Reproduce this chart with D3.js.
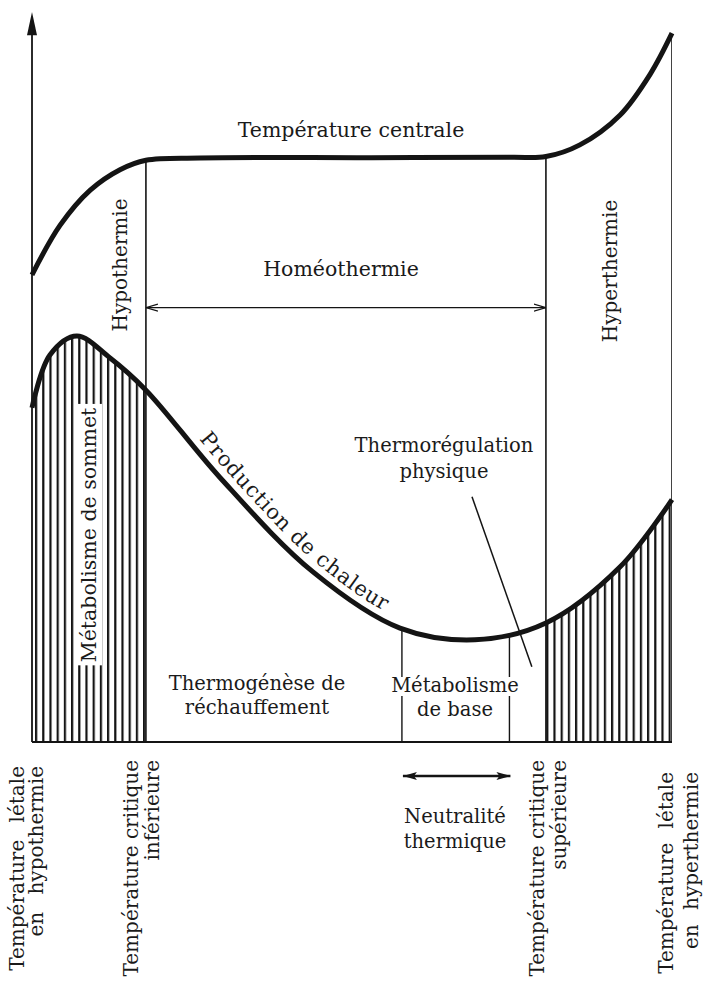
<!DOCTYPE html>
<html>
<head>
<meta charset="utf-8">
<script src="https://cdn.jsdelivr.net/npm/d3@7"></script>
<style>
  body { margin: 0; background: #fff; }
  text { font-family: "DejaVu Serif", serif; fill: #1a1a1a; }
</style>
</head>
<body>
<svg id="chart" width="707" height="982"></svg>
<script>
// ambient temperature runs 0 (lethal, hypothermia) .. 100 (lethal, hyperthermia), no units in the figure
const limitNames = ["letaleHypo", "critiqueInf", "neutreBas", "neutreHaut", "critiqueSup", "letaleHyper"];
const limitValues = [0, 17.8, 57.8, 74.6, 80.3, 100];

// température centrale [temp, level]
const centralTemp = [[0,64],[4.4,70.8],[9.1,75.6],[13.75,78.4],[17.8,79.7],[26.25,80],[53,80.05],
  [75,80.1],[80.3,80.2],[85.6,81.8],[91.9,85.9],[96.6,91.5],[100,97.1]];

// production de chaleur [temp, level]
const heatProduction = [[0,45.8],[2.8,53],[7,55.6],[12.2,52.6],[17.8,48.2],[29.4,36.2],[43.9,23.3],
  [57.5,15.6],[69.2,14],[80.3,16.3],[91.9,24],[100,33.2]];

// pointer from "Thermorégulation physique" down to the curve
const leaderLine = [[68.75,33.6],[78.1,10.3]];

const bottomLabels = [
  ["Température létale", "en hypothermie"],
  ["Température  critique", "inférieure"],
  ["Température  critique", "supérieure"],
  ["Température létale", "en hyperthermie"]
];

const svg = d3.select("#chart");
const x = d3.scaleLinear().domain([0, 100]).range([32, 672]);
const y = d3.scaleLinear().domain([0, 100]).range([742, 12]);
const ink = "#141414";

const defs = svg.append("defs");
const hatch = defs.append("pattern")
    .attr("id", "hatch").attr("patternUnits", "userSpaceOnUse")
    .attr("width", 7.2).attr("height", 10).attr("x", x(0) + 3);
hatch.append("rect").attr("width", 2.2).attr("height", 10).attr("fill", ink);

const curve = d3.curveCatmullRom.alpha(0.5);
const under = d3.area().x(d => x(d[0])).y0(y(0)).y1(d => y(d[1])).curve(curve);
const line = d3.line().x(d => x(d[0])).y(d => y(d[1])).curve(curve);

defs.append("clipPath").attr("id", "underHeat").append("path").attr("d", under(heatProduction));
defs.append("clipPath").attr("id", "underCentral").append("path").attr("d", under(centralTemp));

// hatched zones: métabolisme de sommet and the hot side
const hatchZones = [[limitValues[0], limitValues[1]], [limitValues[4], limitValues[5]]];
svg.append("g").attr("clip-path", "url(#underHeat)")
  .selectAll("rect").data(hatchZones).join("rect")
    .attr("x", d => x(d[0])).attr("width", d => x(d[1]) - x(d[0]))
    .attr("y", y(100)).attr("height", y(0) - y(100))
    .attr("fill", "url(#hatch)");

// vertical limit lines
svg.append("g").attr("clip-path", "url(#underCentral)")
  .selectAll("line").data([limitValues[1], limitValues[4], limitValues[5]]).join("line")
    .attr("x1", d => x(d)).attr("x2", d => x(d))
    .attr("y1", y(100)).attr("y2", y(0))
    .attr("stroke", ink).attr("stroke-width", 1.6);

svg.append("g").attr("clip-path", "url(#underHeat)")
  .selectAll("line").data([limitValues[2], limitValues[3]]).join("line")
    .attr("x1", d => x(d)).attr("x2", d => x(d))
    .attr("y1", y(100)).attr("y2", y(0))
    .attr("stroke", ink).attr("stroke-width", 1.4);

// axis + baseline
svg.append("line").attr("x1", x(0)).attr("x2", x(0)).attr("y1", y(0)).attr("y2", y(97))
  .attr("stroke", ink).attr("stroke-width", 1.8);
svg.append("path")
  .attr("d", `M${x(0)},${y(100)} L${x(0) - 5},${y(96.8)} L${x(0) + 5},${y(96.8)} Z`)
  .attr("fill", ink);
svg.append("line").attr("x1", x(0)).attr("x2", x(100)).attr("y1", y(0)).attr("y2", y(0))
  .attr("stroke", ink).attr("stroke-width", 1.8);

// curves
svg.append("path").attr("d", line(centralTemp))
  .attr("fill", "none").attr("stroke", ink).attr("stroke-width", 5);
svg.append("path").attr("id", "heatCurve").attr("d", line(heatProduction))
  .attr("fill", "none").attr("stroke", ink).attr("stroke-width", 5);

svg.append("line")
  .attr("x1", x(leaderLine[0][0])).attr("y1", y(leaderLine[0][1]))
  .attr("x2", x(leaderLine[1][0])).attr("y2", y(leaderLine[1][1]))
  .attr("stroke", ink).attr("stroke-width", 1.5);

// arrows
defs.append("marker").attr("id", "openHead").attr("viewBox", "0 -5 12 10")
  .attr("refX", 12).attr("refY", 0).attr("markerWidth", 12).attr("markerHeight", 10)
  .attr("markerUnits", "userSpaceOnUse").attr("orient", "auto-start-reverse")
  .append("path").attr("d", "M0,-3.5 L12,0 L0,3.5").attr("fill", "none")
  .attr("stroke", ink).attr("stroke-width", 1.3);
defs.append("marker").attr("id", "fullHead").attr("viewBox", "0 -5 14 10")
  .attr("refX", 14).attr("refY", 0).attr("markerWidth", 14).attr("markerHeight", 10)
  .attr("markerUnits", "userSpaceOnUse").attr("orient", "auto-start-reverse")
  .append("path").attr("d", "M0,-4 L14,0 L0,4 L3,0 Z").attr("fill", ink);

svg.append("line")
  .attr("x1", x(limitValues[1])).attr("x2", x(limitValues[4]))
  .attr("y1", y(59.5)).attr("y2", y(59.5))
  .attr("stroke", ink).attr("stroke-width", 1.3)
  .attr("marker-start", "url(#openHead)").attr("marker-end", "url(#openHead)");
svg.append("line")
  .attr("x1", x(limitValues[2]) + 1).attr("x2", x(limitValues[3]) + 1)
  .attr("y1", 776).attr("y2", 776)
  .attr("stroke", ink).attr("stroke-width", 2.4)
  .attr("marker-start", "url(#fullHead)").attr("marker-end", "url(#fullHead)");

// horizontal texts
function textBlock(lines, cx, by, size, lh) {
  const t = svg.append("text").attr("text-anchor", "middle").attr("font-size", size);
  lines.forEach((s, i) => t.append("tspan").attr("x", cx).attr("y", by + i * lh).text(s));
  return t;
}
textBlock(["Température  centrale"], 351, 137, 20.5, 0);
textBlock(["Homéothermie"], 341, 276, 20.5, 0);
textBlock(["Thermorégulation", "physique"], 444, 452, 19.5, 26);
textBlock(["Thermogénèse  de", "réchauffement"], 257, 690, 19.5, 24);
textBlock(["Neutralité", "thermique"], 455, 823, 19.5, 25);

// métabolisme de base: the label interrupts the two neutral lines
const mb = textBlock(["Métabolisme"], 455, 692, 19.5, 0);
const mbBox = mb.node().getBBox();
svg.insert("rect", "text").attr("x", mbBox.x - 2).attr("y", mbBox.y + 3)
  .attr("width", mbBox.width + 4).attr("height", mbBox.height - 4).attr("fill", "#fff");
textBlock(["de  base"], 455, 716, 19.5, 0);

// rotated texts
function rotated(lines, bx, by, size, lh, anchor, wordGap) {
  const g = svg.append("g").attr("transform", `translate(${bx},${by}) rotate(-90)`);
  const t = g.append("text").attr("text-anchor", anchor).attr("font-size", size)
    .attr("word-spacing", wordGap || 0);
  lines.forEach((s, i) => t.append("tspan").attr("x", 0).attr("y", i * lh).text(s));
  return g;
}
rotated(["Hypothermie"], 127, 265, 20, 0, "middle");
rotated(["Hyperthermie"], 617, 271, 20, 0, "middle");

const ms = rotated(["Métabolisme  de  sommet"], 96, 535, 20.5, 0, "middle");
const msBox = ms.select("text").node().getBBox();
ms.insert("rect", "text").attr("x", msBox.x - 3).attr("y", msBox.y - 1)
  .attr("width", msBox.width + 6).attr("height", msBox.height + 2).attr("fill", "#fff");

// [baseline x, top end y, line gap, word spacing]
const bottomPos = [[24, 766, 19, 11], [138, 760, 21, 0], [544, 760, 22, 0], [673, 772, 25, 8]];
bottomLabels.forEach((lines, i) => {
  const p = bottomPos[i];
  rotated(lines, p[0], p[1], 20, p[2], "end", p[3]);
});

// "Production de chaleur" follows the curve
const heatNode = d3.select("#heatCurve").node();
const total = heatNode.getTotalLength();
let lo = 0, hi = total;
for (let k = 0; k < 30; k++) {
  const mid = (lo + hi) / 2;
  if (heatNode.getPointAtLength(mid).x < x(25)) lo = mid; else hi = mid;
}
svg.append("text").attr("font-size", 21).attr("letter-spacing", 1).attr("dy", -9)
  .append("textPath").attr("href", "#heatCurve").attr("startOffset", lo)
  .text("Production  de  chaleur");
</script>
</body>
</html>
